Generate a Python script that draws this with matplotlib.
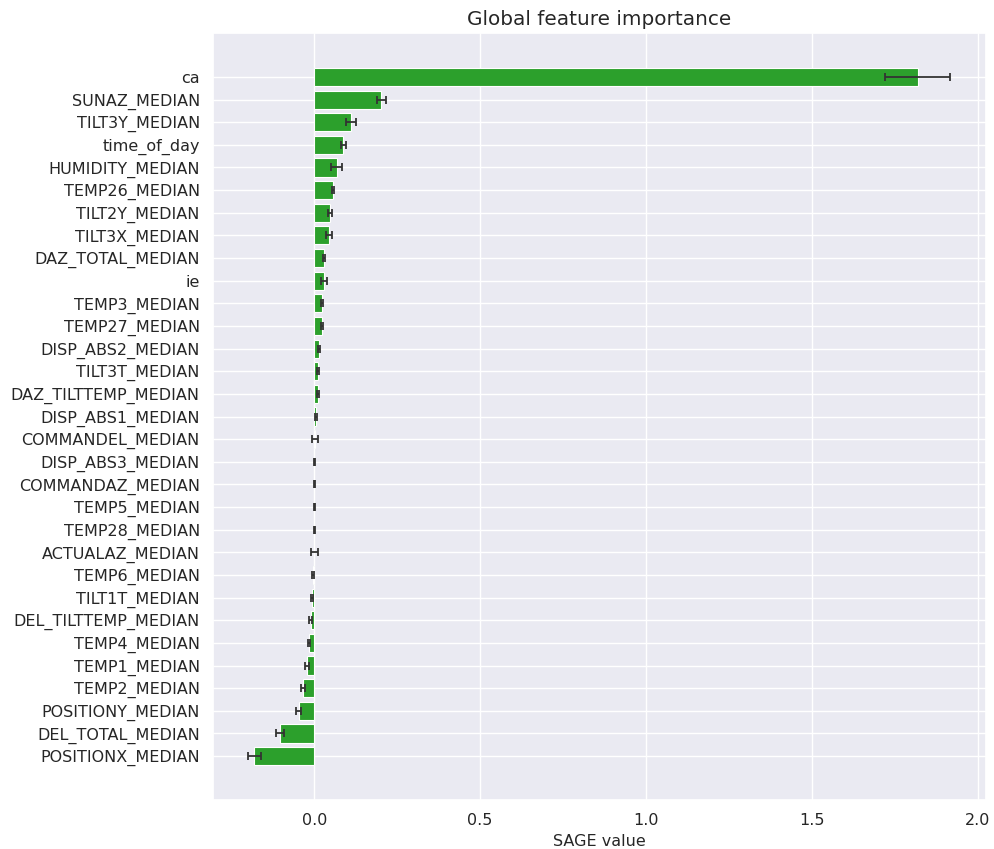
import matplotlib
matplotlib.use("Agg")
import matplotlib.pyplot as plt
import numpy as np
import seaborn as sns

sns.set_theme(style="darkgrid")
plt.rcParams["font.family"] = ["DejaVu Sans"]

# Features ordered from top to bottom of the chart
features = [
    "ca", "SUNAZ_MEDIAN", "TILT3Y_MEDIAN", "time_of_day", "HUMIDITY_MEDIAN",
    "TEMP26_MEDIAN", "TILT2Y_MEDIAN", "TILT3X_MEDIAN", "DAZ_TOTAL_MEDIAN", "ie",
    "TEMP3_MEDIAN", "TEMP27_MEDIAN", "DISP_ABS2_MEDIAN", "TILT3T_MEDIAN",
    "DAZ_TILTTEMP_MEDIAN", "DISP_ABS1_MEDIAN", "COMMANDEL_MEDIAN",
    "DISP_ABS3_MEDIAN", "COMMANDAZ_MEDIAN", "TEMP5_MEDIAN", "TEMP28_MEDIAN",
    "ACTUALAZ_MEDIAN", "TEMP6_MEDIAN", "TILT1T_MEDIAN", "DEL_TILTTEMP_MEDIAN",
    "TEMP4_MEDIAN", "TEMP1_MEDIAN", "TEMP2_MEDIAN", "POSITIONY_MEDIAN",
    "DEL_TOTAL_MEDIAN", "POSITIONX_MEDIAN",
]

sage_values = [
    1.819, 0.202, 0.111, 0.088, 0.068,
    0.057, 0.048, 0.045, 0.030, 0.029,
    0.024, 0.024, 0.014, 0.011,
    0.011, 0.005, 0.002,
    0.000, 0.000, 0.000, 0.000,
    0.000, -0.004, -0.006, -0.011,
    -0.016, -0.022, -0.034, -0.047,
    -0.104, -0.181,
]

sage_std = [
    0.098, 0.014, 0.016, 0.008, 0.017,
    0.004, 0.007, 0.008, 0.004, 0.009,
    0.003, 0.003, 0.003, 0.003,
    0.003, 0.004, 0.008,
    0.001, 0.001, 0.001, 0.001,
    0.010, 0.002, 0.003, 0.004,
    0.002, 0.005, 0.005, 0.008,
    0.012, 0.020,
]

n = len(features)
positions = np.arange(n)[::-1]

fig = plt.figure(figsize=(9.94, 8.49), dpi=100)
ax = fig.add_axes([0.2143, 0.0577, 0.7777, 0.9034])

ax.barh(positions, sage_values, height=0.8, color="#2ca02c",
        edgecolor="white", linewidth=0.8,
        xerr=sage_std, capsize=3,
        error_kw=dict(ecolor="#333333", elinewidth=1.3, capthick=1.3))

ax.set_yticks(positions)
ax.set_yticklabels(features, fontsize=11.5)
ax.tick_params(axis="x", labelsize=11.5)
ax.set_xlim(-0.305, 2.025)
ax.set_xticks([0.0, 0.5, 1.0, 1.5, 2.0])
ax.set_xlabel("SAGE value", fontsize=11.5, labelpad=4)
ax.set_title("Global feature importance", fontsize=14.4, pad=6)

fig.savefig("out.png", dpi=100)
